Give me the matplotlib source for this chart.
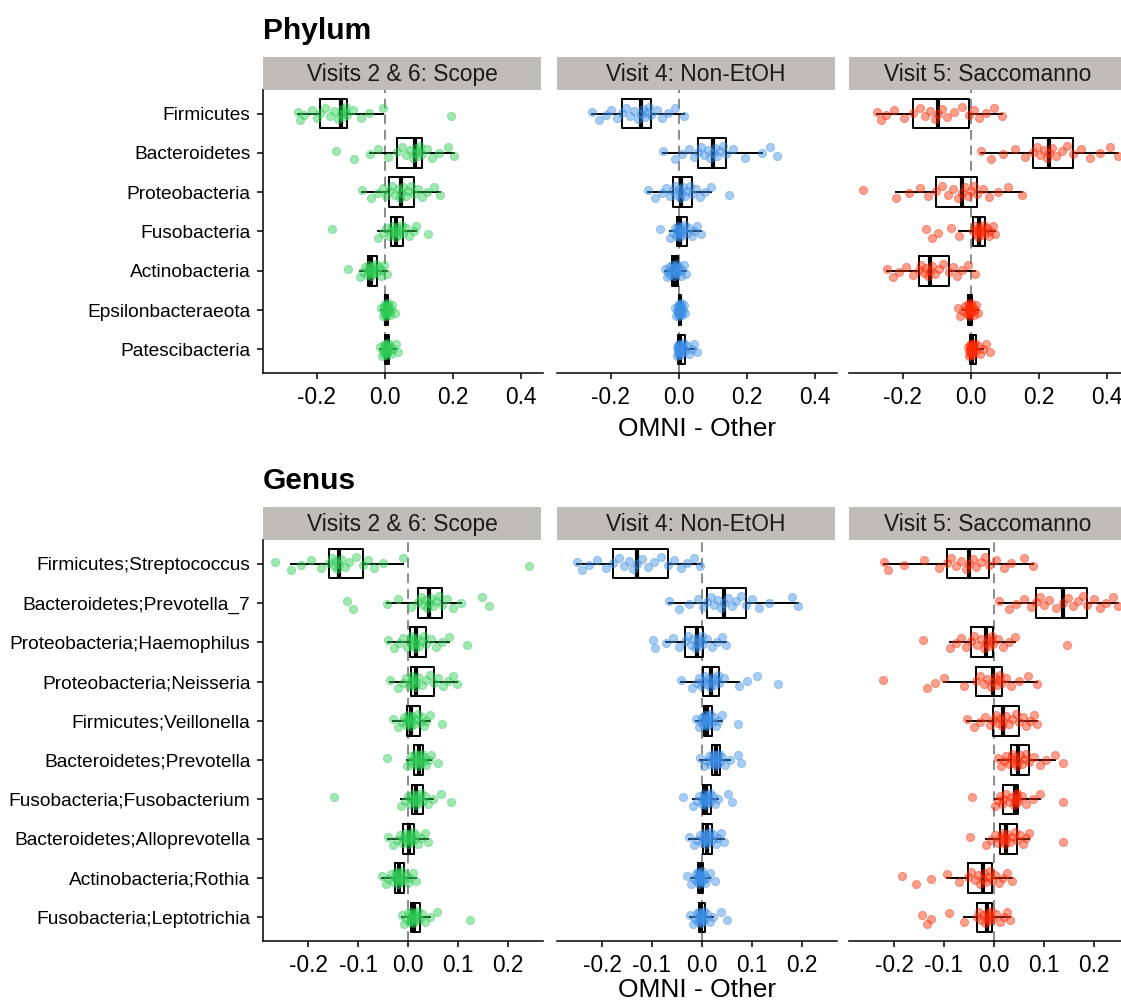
import matplotlib
matplotlib.use("Agg")
import matplotlib.pyplot as plt
import numpy as np


plt.rcParams["font.family"] = ["Liberation Sans", "DejaVu Sans"]

# ---- data --------------------------------------------------------------

facet_titles = [
    "Visits 2 & 6: Scope",
    "Visit 4: Non-EtOH",
    "Visit 5: Saccomanno",
]

phylum_labels = [
    "Firmicutes",
    "Bacteroidetes",
    "Proteobacteria",
    "Fusobacteria",
    "Actinobacteria",
    "Epsilonbacteraeota",
    "Patescibacteria",
]

genus_labels = [
    "Firmicutes;Streptococcus",
    "Bacteroidetes;Prevotella_7",
    "Proteobacteria;Haemophilus",
    "Proteobacteria;Neisseria",
    "Firmicutes;Veillonella",
    "Bacteroidetes;Prevotella",
    "Fusobacteria;Fusobacterium",
    "Bacteroidetes;Alloprevotella",
    "Actinobacteria;Rothia",
    "Fusobacteria;Leptotrichia",
]

phylum_scope = [
    [-0.255, -0.248, -0.236, -0.215, -0.200, -0.191, -0.175, -0.160, -0.148, -0.138, -0.129,
     -0.126, -0.122, -0.118, -0.114, -0.110, -0.092, -0.070, -0.045, -0.005, 0.194],
    [-0.142, -0.091, -0.044, -0.020, 0.010, 0.037, 0.050, 0.062, 0.074, 0.082, 0.088,
     0.092, 0.097, 0.101, 0.105, 0.109, 0.125, 0.140, 0.160, 0.185, 0.204],
    [-0.067, -0.040, -0.020, -0.005, 0.005, 0.014, 0.022, 0.030, 0.038, 0.044, 0.049,
     0.055, 0.062, 0.070, 0.078, 0.086, 0.098, 0.110, 0.125, 0.145, 0.162],
    [-0.154, -0.020, -0.005, 0.005, 0.012, 0.018, 0.022, 0.026, 0.029, 0.032, 0.034,
     0.037, 0.041, 0.045, 0.050, 0.054, 0.062, 0.072, 0.085, 0.093, 0.127],
    [-0.108, -0.074, -0.065, -0.058, -0.052, -0.048, -0.046, -0.044, -0.042, -0.040, -0.039,
     -0.037, -0.034, -0.030, -0.026, -0.023, -0.018, -0.012, -0.007, -0.003, 0.006],
    [-0.010, -0.006, -0.003, -0.001, 0.000, 0.001, 0.002, 0.003, 0.003, 0.004, 0.005,
     0.006, 0.007, 0.008, 0.010, 0.011, 0.013, 0.016, 0.019, 0.023, 0.030],
    [-0.014, -0.009, -0.005, -0.003, -0.001, 0.000, 0.001, 0.002, 0.003, 0.005, 0.006,
     0.007, 0.008, 0.010, 0.011, 0.013, 0.016, 0.020, 0.025, 0.032, 0.040],
]

phylum_nonetoh = [
    [-0.254, -0.235, -0.215, -0.198, -0.182, -0.168, -0.155, -0.142, -0.130, -0.120, -0.112,
     -0.106, -0.100, -0.094, -0.088, -0.081, -0.065, -0.048, -0.030, -0.010, 0.017],
    [-0.047, -0.010, 0.010, 0.030, 0.045, 0.056, 0.066, 0.076, 0.085, 0.093, 0.100,
     0.106, 0.113, 0.122, 0.131, 0.140, 0.160, 0.195, 0.244, 0.269, 0.289],
    [-0.091, -0.070, -0.050, -0.036, -0.026, -0.018, -0.012, -0.006, 0.000, 0.004, 0.008,
     0.013, 0.019, 0.026, 0.033, 0.039, 0.050, 0.062, 0.078, 0.094, 0.149],
    [-0.055, -0.025, -0.018, -0.012, -0.007, -0.004, -0.002, 0.000, 0.002, 0.004, 0.005,
     0.007, 0.010, 0.014, 0.019, 0.024, 0.030, 0.038, 0.046, 0.055, 0.065],
    [-0.040, -0.034, -0.030, -0.027, -0.024, -0.021, -0.019, -0.017, -0.015, -0.013, -0.011,
     -0.010, -0.008, -0.006, -0.005, -0.003, 0.001, 0.006, 0.011, 0.017, 0.022],
    [-0.011, -0.007, -0.004, -0.002, -0.001, 0.000, 0.001, 0.001, 0.002, 0.002, 0.003,
     0.003, 0.004, 0.005, 0.006, 0.007, 0.008, 0.010, 0.012, 0.015, 0.019],
    [-0.006, -0.004, -0.003, -0.002, -0.001, -0.001, 0.000, 0.001, 0.002, 0.004, 0.005,
     0.007, 0.010, 0.013, 0.016, 0.019, 0.024, 0.030, 0.038, 0.046, 0.055],
]

phylum_saccomanno = [
    [-0.277, -0.265, -0.250, -0.225, -0.195, -0.169, -0.150, -0.135, -0.120, -0.105, -0.096,
     -0.085, -0.070, -0.050, -0.025, -0.006, 0.010, 0.025, 0.045, 0.070, 0.093],
    [0.031, 0.060, 0.095, 0.130, 0.160, 0.184, 0.195, 0.205, 0.215, 0.224, 0.231,
     0.240, 0.252, 0.268, 0.285, 0.300, 0.325, 0.350, 0.380, 0.410, 0.433],
    [-0.317, -0.219, -0.180, -0.150, -0.125, -0.103, -0.085, -0.068, -0.052, -0.037, -0.025,
     -0.016, -0.008, 0.002, 0.010, 0.018, 0.035, 0.055, 0.080, 0.110, 0.151],
    [-0.130, -0.115, -0.097, -0.057, -0.034, 0.008, 0.012, 0.015, 0.018, 0.021, 0.024,
     0.027, 0.030, 0.034, 0.038, 0.043, 0.048, 0.053, 0.058, 0.065, 0.073],
    [-0.245, -0.228, -0.210, -0.190, -0.170, -0.152, -0.145, -0.138, -0.131, -0.125, -0.120,
     -0.113, -0.104, -0.093, -0.080, -0.065, -0.052, -0.040, -0.025, -0.008, 0.012],
    [-0.037, -0.030, -0.022, -0.016, -0.011, -0.008, -0.007, -0.006, -0.005, -0.004, -0.003,
     -0.002, -0.001, 0.001, 0.002, 0.004, 0.006, 0.009, 0.012, 0.016, 0.021],
    [-0.008, -0.006, -0.004, -0.003, -0.002, -0.001, 0.000, 0.001, 0.002, 0.003, 0.004,
     0.006, 0.008, 0.011, 0.013, 0.016, 0.021, 0.027, 0.035, 0.045, 0.058],
]

genus_scope = [
    [-0.267, -0.234, -0.215, -0.195, -0.175, -0.158, -0.152, -0.148, -0.145, -0.142, -0.139,
     -0.134, -0.127, -0.118, -0.105, -0.091, -0.080, -0.068, -0.050, -0.011, 0.241],
    [-0.123, -0.110, -0.042, -0.020, 0.005, 0.019, 0.025, 0.030, 0.034, 0.038, 0.041,
     0.045, 0.050, 0.055, 0.061, 0.067, 0.078, 0.090, 0.105, 0.148, 0.161],
    [-0.040, -0.028, -0.018, -0.010, -0.003, 0.003, 0.006, 0.008, 0.010, 0.013, 0.015,
     0.018, 0.022, 0.026, 0.031, 0.036, 0.045, 0.055, 0.068, 0.081, 0.117],
    [-0.036, -0.020, -0.010, -0.004, 0.001, 0.005, 0.007, 0.009, 0.011, 0.013, 0.015,
     0.020, 0.027, 0.035, 0.043, 0.051, 0.060, 0.070, 0.080, 0.090, 0.097],
    [-0.031, -0.020, -0.012, -0.008, -0.005, -0.003, -0.001, 0.001, 0.003, 0.005, 0.006,
     0.008, 0.011, 0.015, 0.019, 0.023, 0.027, 0.031, 0.036, 0.043, 0.067],
    [-0.042, -0.002, 0.003, 0.006, 0.009, 0.011, 0.013, 0.015, 0.017, 0.019, 0.021,
     0.022, 0.024, 0.026, 0.027, 0.029, 0.032, 0.036, 0.041, 0.046, 0.059],
    [-0.149, -0.014, -0.006, 0.000, 0.004, 0.007, 0.009, 0.011, 0.013, 0.015, 0.016,
     0.018, 0.020, 0.023, 0.026, 0.029, 0.034, 0.040, 0.049, 0.066, 0.085],
    [-0.041, -0.030, -0.022, -0.016, -0.013, -0.010, -0.007, -0.005, -0.002, 0.000, 0.001,
     0.003, 0.005, 0.007, 0.009, 0.011, 0.015, 0.020, 0.026, 0.033, 0.040],
    [-0.052, -0.045, -0.040, -0.035, -0.030, -0.027, -0.025, -0.023, -0.022, -0.020, -0.019,
     -0.018, -0.016, -0.014, -0.012, -0.009, -0.005, -0.001, 0.004, 0.009, 0.016],
    [-0.012, -0.008, -0.004, 0.000, 0.003, 0.005, 0.006, 0.007, 0.008, 0.010, 0.011,
     0.012, 0.014, 0.017, 0.020, 0.023, 0.028, 0.034, 0.044, 0.057, 0.124],
]

genus_nonetoh = [
    [-0.250, -0.240, -0.225, -0.210, -0.192, -0.177, -0.165, -0.155, -0.146, -0.137, -0.129,
     -0.120, -0.108, -0.095, -0.082, -0.068, -0.055, -0.042, -0.030, -0.015, -0.003],
    [-0.065, -0.045, -0.025, -0.008, 0.003, 0.011, 0.018, 0.025, 0.032, 0.039, 0.045,
     0.052, 0.060, 0.069, 0.078, 0.088, 0.100, 0.115, 0.135, 0.180, 0.193],
    [-0.098, -0.093, -0.072, -0.058, -0.045, -0.034, -0.028, -0.022, -0.017, -0.013, -0.010,
     -0.008, -0.005, -0.002, 0.001, 0.003, 0.010, 0.020, 0.030, 0.040, 0.048],
    [-0.041, -0.020, -0.010, -0.005, -0.001, 0.002, 0.006, 0.010, 0.013, 0.016, 0.019,
     0.022, 0.025, 0.028, 0.032, 0.035, 0.045, 0.075, 0.091, 0.110, 0.153],
    [-0.012, -0.006, -0.002, 0.001, 0.003, 0.005, 0.006, 0.007, 0.008, 0.010, 0.011,
     0.012, 0.013, 0.015, 0.017, 0.020, 0.024, 0.028, 0.033, 0.040, 0.072],
    [-0.003, 0.005, 0.010, 0.014, 0.017, 0.020, 0.022, 0.024, 0.025, 0.027, 0.028,
     0.030, 0.031, 0.033, 0.035, 0.037, 0.041, 0.047, 0.057, 0.073, 0.078],
    [-0.037, -0.017, -0.010, -0.005, 0.000, 0.003, 0.004, 0.005, 0.006, 0.007, 0.008,
     0.010, 0.012, 0.014, 0.016, 0.019, 0.023, 0.027, 0.032, 0.052, 0.060],
    [-0.025, -0.016, -0.009, -0.004, 0.000, 0.002, 0.004, 0.006, 0.007, 0.009, 0.010,
     0.011, 0.013, 0.015, 0.017, 0.020, 0.024, 0.028, 0.033, 0.038, 0.044],
    [-0.030, -0.022, -0.016, -0.012, -0.010, -0.008, -0.007, -0.006, -0.005, -0.005, -0.004,
     -0.003, -0.002, -0.001, 0.001, 0.002, 0.004, 0.007, 0.011, 0.016, 0.027],
    [-0.023, -0.017, -0.013, -0.010, -0.008, -0.006, -0.005, -0.004, -0.003, -0.002, -0.001,
     0.000, 0.002, 0.003, 0.005, 0.007, 0.011, 0.016, 0.022, 0.038, 0.050],
]

genus_saccomanno = [
    [-0.221, -0.212, -0.180, -0.140, -0.110, -0.094, -0.085, -0.075, -0.065, -0.056, -0.049,
     -0.042, -0.035, -0.026, -0.018, -0.009, 0.005, 0.020, 0.035, 0.060, 0.079],
    [0.011, 0.030, 0.045, 0.060, 0.075, 0.084, 0.092, 0.100, 0.110, 0.124, 0.138,
     0.148, 0.158, 0.168, 0.178, 0.187, 0.200, 0.212, 0.225, 0.238, 0.248],
    [-0.142, -0.087, -0.075, -0.065, -0.055, -0.046, -0.040, -0.033, -0.026, -0.020, -0.015,
     -0.012, -0.009, -0.006, -0.003, -0.001, 0.008, 0.018, 0.030, 0.043, 0.146],
    [-0.222, -0.134, -0.117, -0.099, -0.060, -0.036, -0.028, -0.020, -0.013, -0.006, -0.001,
     0.002, 0.006, 0.010, 0.013, 0.016, 0.025, 0.035, 0.050, 0.068, 0.086],
    [-0.054, -0.040, -0.028, -0.018, -0.008, -0.002, 0.004, 0.009, 0.013, 0.016, 0.019,
     0.024, 0.030, 0.037, 0.044, 0.051, 0.058, 0.065, 0.072, 0.080, 0.086],
    [0.009, 0.015, 0.020, 0.025, 0.030, 0.034, 0.037, 0.040, 0.043, 0.046, 0.049,
     0.052, 0.056, 0.060, 0.065, 0.071, 0.080, 0.092, 0.105, 0.123, 0.138],
    [-0.043, 0.003, 0.008, 0.012, 0.016, 0.019, 0.024, 0.030, 0.035, 0.040, 0.043,
     0.044, 0.045, 0.046, 0.047, 0.049, 0.056, 0.065, 0.078, 0.093, 0.138],
    [-0.047, -0.016, -0.005, 0.003, 0.008, 0.013, 0.016, 0.018, 0.020, 0.022, 0.024,
     0.027, 0.032, 0.037, 0.042, 0.046, 0.052, 0.058, 0.064, 0.071, 0.138],
    [-0.184, -0.157, -0.126, -0.094, -0.070, -0.051, -0.045, -0.038, -0.032, -0.027, -0.022,
     -0.019, -0.015, -0.011, -0.007, -0.004, 0.002, 0.010, 0.018, 0.027, 0.036],
    [-0.144, -0.135, -0.127, -0.089, -0.059, -0.034, -0.029, -0.025, -0.021, -0.017, -0.014,
     -0.012, -0.010, -0.008, -0.006, -0.003, 0.004, 0.012, 0.020, 0.027, 0.033],
]

phylum_ticks = [-0.2, 0.0, 0.2, 0.4]
genus_ticks = [-0.2, -0.1, 0.0, 0.1, 0.2]

facet_colors = ["#2ecc55", "#3d8ee6", "#ff2b05"]

# ---- layout helpers (pixel based) --------------------------------------

FIG_W = 1121
FIG_H = 1002

fig = plt.figure(figsize=(FIG_W / 100, FIG_H / 100), dpi=100)


def add_px_axes(left, top, width, height):
    return fig.add_axes([
        left / FIG_W,
        1 - (top + height) / FIG_H,
        width / FIG_W,
        height / FIG_H,
    ])


def jitter_offsets(n):
    # deterministic vertical spread of points around their row
    return ((np.arange(n) * 0.6180339887 + 0.35) % 1.0 - 0.5) * 0.34


def draw_panel(ax, groups, color, xlim, xticks, labels, show_y):
    n_rows = len(groups)
    positions = np.arange(n_rows)

    ax.axvline(
        0,
        color="#8a8a8a",
        linestyle=(0, (5, 3)),
        linewidth=1.4,
        zorder=1
    )

    ax.boxplot(
        groups,
        positions=positions,
        orientation="horizontal",
        widths=0.75,
        showfliers=False,
        showcaps=False,
        boxprops=dict(color="black", linewidth=1.4),
        whiskerprops=dict(color="black", linewidth=1.4),
        medianprops=dict(color="black", linewidth=3.0),
        zorder=2
    )

    for row, values in enumerate(groups):
        values = np.asarray(values)
        ax.scatter(
            values,
            row + jitter_offsets(len(values)),
            s=34,
            color=color,
            alpha=0.45,
            linewidths=0.7,
            edgecolors=color,
            zorder=3
        )

    ax.set_xlim(*xlim)
    ax.set_ylim(n_rows - 0.4, -0.6)
    ax.set_xticks(xticks)
    ax.set_xticklabels([f"{t:.1f}" for t in xticks])

    ax.spines["top"].set_visible(False)
    ax.spines["right"].set_visible(False)
    ax.spines["bottom"].set_linewidth(1.1)

    ax.tick_params(
        axis="x",
        labelsize=16.3,
        length=4,
        width=1.1,
        pad=5,
        colors="black"
    )

    if show_y:
        ax.set_yticks(positions)
        ax.set_yticklabels(labels)
        ax.spines["left"].set_linewidth(1.1)
        ax.tick_params(
            axis="y",
            labelsize=13.8,
            length=4,
            width=1.1,
            pad=5,
            colors="black"
        )
    else:
        ax.spines["left"].set_visible(False)
        ax.set_yticks([])


def draw_strip(left, top, width, height, text):
    strip = add_px_axes(left, top, width, height)
    strip.set_facecolor("#c0bcba")
    strip.set_xticks([])
    strip.set_yticks([])
    for side in strip.spines.values():
        side.set_visible(False)
    strip.text(
        0.5,
        0.46,
        text,
        ha="center",
        va="center",
        fontsize=16.4,
        color="#1a1a1a",
        transform=strip.transAxes
    )


col_lefts = [263, 557, 849]
col_width = 280

# ---- Phylum block ------------------------------------------------------

phylum_groups = [phylum_scope, phylum_nonetoh, phylum_saccomanno]

fig.text(263 / FIG_W, 1 - 39 / FIG_H, "Phylum",
         fontsize=21.5, fontweight="bold", ha="left", va="baseline")

for i, groups in enumerate(phylum_groups):
    draw_strip(col_lefts[i], 57, col_width - 2, 33, facet_titles[i])
    ax = add_px_axes(col_lefts[i], 90, col_width, 283)
    draw_panel(ax, groups, facet_colors[i], (-0.358, 0.466),
               phylum_ticks, phylum_labels, i == 0)

fig.text((557 + 140) / FIG_W, 1 - 436 / FIG_H, "OMNI - Other",
         fontsize=19, ha="center", va="baseline")

# ---- Genus block -------------------------------------------------------

genus_groups = [genus_scope, genus_nonetoh, genus_saccomanno]

fig.text(263 / FIG_W, 1 - 489 / FIG_H, "Genus",
         fontsize=21.5, fontweight="bold", ha="left", va="baseline")

for i, groups in enumerate(genus_groups):
    draw_strip(col_lefts[i], 507, col_width - 2, 33, facet_titles[i])
    ax = add_px_axes(col_lefts[i], 540, col_width, 401)
    draw_panel(ax, groups, facet_colors[i], (-0.290, 0.270),
               genus_ticks, genus_labels, i == 0)

fig.text((557 + 140) / FIG_W, 1 - 997 / FIG_H, "OMNI - Other",
         fontsize=19, ha="center", va="baseline")

fig.savefig("out.png", dpi=100)
plt.close(fig)
